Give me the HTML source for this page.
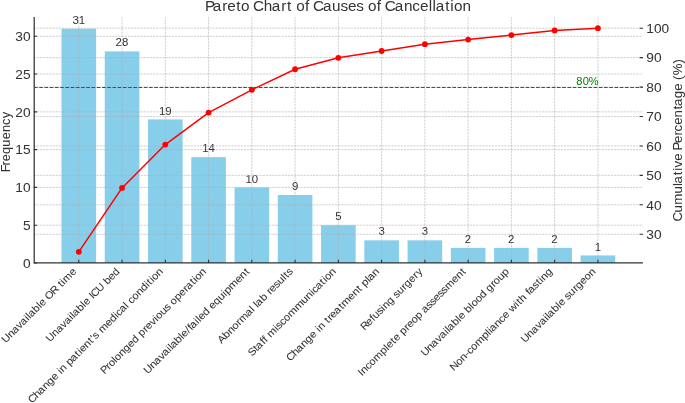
<!DOCTYPE html>
<html><head><meta charset="utf-8"><style>
html,body{margin:0;padding:0;background:#fff;}
body{width:685px;height:403px;overflow:hidden;}
svg{display:block;font-family:"Liberation Sans",sans-serif;will-change:transform;}
</style></head><body>
<svg width="685" height="403" viewBox="0 0 685 403">
<rect x="61.50" y="28.71" width="34.61" height="234.29" fill="#87ceeb"/>
<rect x="104.76" y="51.39" width="34.61" height="211.61" fill="#87ceeb"/>
<rect x="148.02" y="119.41" width="34.61" height="143.59" fill="#87ceeb"/>
<rect x="191.28" y="157.19" width="34.61" height="105.81" fill="#87ceeb"/>
<rect x="234.54" y="187.42" width="34.61" height="75.58" fill="#87ceeb"/>
<rect x="277.80" y="194.98" width="34.61" height="68.02" fill="#87ceeb"/>
<rect x="321.06" y="225.21" width="34.61" height="37.79" fill="#87ceeb"/>
<rect x="364.32" y="240.33" width="34.61" height="22.67" fill="#87ceeb"/>
<rect x="407.58" y="240.33" width="34.61" height="22.67" fill="#87ceeb"/>
<rect x="450.84" y="247.88" width="34.61" height="15.12" fill="#87ceeb"/>
<rect x="494.10" y="247.88" width="34.61" height="15.12" fill="#87ceeb"/>
<rect x="537.36" y="247.88" width="34.61" height="15.12" fill="#87ceeb"/>
<rect x="580.62" y="255.44" width="34.61" height="7.56" fill="#87ceeb"/>
<path d="M78.80 263.0V17.0M122.06 263.0V17.0M165.32 263.0V17.0M208.58 263.0V17.0M251.84 263.0V17.0M295.10 263.0V17.0M338.36 263.0V17.0M381.62 263.0V17.0M424.88 263.0V17.0M468.14 263.0V17.0M511.40 263.0V17.0M554.66 263.0V17.0M597.92 263.0V17.0M33.81 225.21H642.91M33.81 187.42H642.91M33.81 149.64H642.91M33.81 111.85H642.91M33.81 74.06H642.91M33.81 36.27H642.91" stroke="#b0b0b0" stroke-width="0.6" stroke-dasharray="2.19 0.947" fill="none"/>
<text transform="translate(78.80 23.81) scale(1.0843 1)" x="-5.85 -0.06" y="0" font-size="10.55" fill="#333333">31</text>
<text transform="translate(122.06 46.49) scale(1.0843 1)" x="-5.99 -0.00" y="0" font-size="10.55" fill="#333333">28</text>
<text transform="translate(165.32 114.51) scale(1.0843 1)" x="-5.93 -0.03" y="0" font-size="10.55" fill="#333333">19</text>
<text transform="translate(208.58 152.29) scale(1.0843 1)" x="-5.93 -0.00" y="0" font-size="10.55" fill="#333333">14</text>
<text transform="translate(251.84 182.52) scale(1.0843 1)" x="-5.93 -0.00" y="0" font-size="10.55" fill="#333333">10</text>
<text transform="translate(295.10 190.08) scale(1.0843 1)" x="-2.96" y="0" font-size="10.55" fill="#333333">9</text>
<text transform="translate(338.36 220.31) scale(1.0843 1)" x="-2.97" y="0" font-size="10.55" fill="#333333">5</text>
<text transform="translate(381.62 235.43) scale(1.0843 1)" x="-2.92" y="0" font-size="10.55" fill="#333333">3</text>
<text transform="translate(424.88 235.43) scale(1.0843 1)" x="-2.92" y="0" font-size="10.55" fill="#333333">3</text>
<text transform="translate(468.14 242.98) scale(1.0843 1)" x="-3.06" y="0" font-size="10.55" fill="#333333">2</text>
<text transform="translate(511.40 242.98) scale(1.0843 1)" x="-3.06" y="0" font-size="10.55" fill="#333333">2</text>
<text transform="translate(554.66 242.98) scale(1.0843 1)" x="-3.06" y="0" font-size="10.55" fill="#333333">2</text>
<text transform="translate(597.92 250.54) scale(1.0843 1)" x="-3.00" y="0" font-size="10.55" fill="#333333">1</text>
<path d="M33.81 234.25H642.91M33.81 204.81H642.91M33.81 175.37H642.91M33.81 145.93H642.91M33.81 116.50H642.91M33.81 87.06H642.91M33.81 57.62H642.91M33.81 28.18H642.91" stroke="#b0b0b0" stroke-width="0.6" stroke-dasharray="2.19 0.947" fill="none"/>
<path d="M34.21 17.0V262.80H642.91" stroke="#333333" stroke-width="1.25" fill="none"/>
<path d="M33.81 263.00h3.3M33.81 225.21h3.3M33.81 187.42h3.3M33.81 149.64h3.3M33.81 111.85h3.3M33.81 74.06h3.3M33.81 36.27h3.3M78.80 263.0v-3.3M122.06 263.0v-3.3M165.32 263.0v-3.3M208.58 263.0v-3.3M251.84 263.0v-3.3M295.10 263.0v-3.3M338.36 263.0v-3.3M381.62 263.0v-3.3M424.88 263.0v-3.3M468.14 263.0v-3.3M511.40 263.0v-3.3M554.66 263.0v-3.3M597.92 263.0v-3.3M642.91 234.25h-3.3M642.91 204.81h-3.3M642.91 175.37h-3.3M642.91 145.93h-3.3M642.91 116.50h-3.3M642.91 87.06h-3.3M642.91 57.62h-3.3M642.91 28.18h-3.3" stroke="#333333" stroke-width="1.1" fill="none"/>
<text transform="translate(30.61 267.70) scale(1.0843 1)" x="-7.04" y="0" font-size="12.66" fill="#333333" stroke="#333333" stroke-width="0.03">0</text>
<text transform="translate(30.61 229.91) scale(1.0843 1)" x="-7.09" y="0" font-size="12.66" fill="#333333" stroke="#333333" stroke-width="0.03">5</text>
<text transform="translate(30.61 192.12) scale(1.0843 1)" x="-14.16 -7.04" y="0" font-size="12.66" fill="#333333" stroke="#333333" stroke-width="0.03">10</text>
<text transform="translate(30.61 154.34) scale(1.0843 1)" x="-14.16 -7.09" y="0" font-size="12.66" fill="#333333" stroke="#333333" stroke-width="0.03">15</text>
<text transform="translate(30.61 116.55) scale(1.0843 1)" x="-14.23 -7.04" y="0" font-size="12.66" fill="#333333" stroke="#333333" stroke-width="0.03">20</text>
<text transform="translate(30.61 78.76) scale(1.0843 1)" x="-14.23 -7.09" y="0" font-size="12.66" fill="#333333" stroke="#333333" stroke-width="0.03">25</text>
<text transform="translate(30.61 40.97) scale(1.0843 1)" x="-14.07 -7.04" y="0" font-size="12.66" fill="#333333" stroke="#333333" stroke-width="0.03">30</text>
<text transform="translate(646.31 238.95) scale(1.0843 1)" x="0.02 7.04" y="0" font-size="12.66" fill="#333333" stroke="#333333" stroke-width="0.03">30</text>
<text transform="translate(646.31 209.51) scale(1.0843 1)" x="-0.00 7.04" y="0" font-size="12.66" fill="#333333" stroke="#333333" stroke-width="0.03">40</text>
<text transform="translate(646.31 180.07) scale(1.0843 1)" x="-0.04 7.04" y="0" font-size="12.66" fill="#333333" stroke="#333333" stroke-width="0.03">50</text>
<text transform="translate(646.31 150.63) scale(1.0843 1)" x="-0.01 7.04" y="0" font-size="12.66" fill="#333333" stroke="#333333" stroke-width="0.03">60</text>
<text transform="translate(646.31 121.20) scale(1.0843 1)" x="-0.03 7.04" y="0" font-size="12.66" fill="#333333" stroke="#333333" stroke-width="0.03">70</text>
<text transform="translate(646.31 91.76) scale(1.0843 1)" x="-0.00 7.04" y="0" font-size="12.66" fill="#333333" stroke="#333333" stroke-width="0.03">80</text>
<text transform="translate(646.31 62.32) scale(1.0843 1)" x="-0.04 7.04" y="0" font-size="12.66" fill="#333333" stroke="#333333" stroke-width="0.03">90</text>
<text transform="translate(646.31 32.88) scale(1.0843 1)" x="-0.08 7.04 14.08" y="0" font-size="12.66" fill="#333333" stroke="#333333" stroke-width="0.03">100</text>
<text transform="translate(77.10 272.10) rotate(-45) scale(1.0601 1)" x="-95.16 -87.97 -82.59 -76.37 -71.46 -65.25 -62.68 -60.66 -54.48 -48.58 -46.16 -40.43 -37.90 -30.63 -23.79 -20.54 -17.12 -14.47 -5.70" y="0" font-size="10.34" fill="#333333" stroke="#333333" stroke-width="0.05">Unavailable OR time</text>
<text transform="translate(120.36 272.10) rotate(-45) scale(1.0464 1)" x="-95.13 -87.86 -82.41 -76.11 -71.12 -64.86 -62.26 -60.18 -53.92 -47.98 -45.50 -39.71 -36.84 -34.54 -27.79 -20.58 -17.50 -11.68 -5.90" y="0" font-size="10.34" fill="#333333" stroke="#333333" stroke-width="0.05">Unavailable ICU bed</text>
<text transform="translate(163.62 272.10) rotate(-45) scale(1.0853 1)" x="-171.59 -164.66 -159.39 -153.39 -147.72 -142.02 -136.38 -133.40 -131.00 -125.28 -122.37 -117.14 -110.84 -107.49 -105.17 -99.53 -93.51 -90.02 -87.96 -83.09 -80.10 -71.50 -65.92 -60.02 -57.84 -53.13 -47.02 -44.62 -41.97 -36.90 -31.26 -25.59 -19.69 -16.99 -13.65 -11.36 -5.72" y="0" font-size="10.34" fill="#333333" stroke="#333333" stroke-width="0.05">Change in patient's medical condition</text>
<text transform="translate(206.88 272.10) rotate(-45) scale(1.0670 1)" x="-135.61 -129.37 -126.19 -120.38 -118.02 -112.28 -106.52 -100.71 -95.04 -89.18 -86.19 -80.13 -76.91 -71.10 -65.66 -63.30 -57.61 -51.93 -46.99 -44.16 -38.39 -32.68 -26.67 -23.64 -17.26 -13.86 -11.50 -5.77" y="0" font-size="10.34" fill="#333333" stroke="#333333" stroke-width="0.05">Prolonged previous operation</text>
<text transform="translate(250.14 272.10) rotate(-45) scale(1.0862 1)" x="-133.20 -126.17 -120.92 -114.84 -110.05 -103.94 -101.44 -99.51 -93.48 -87.68 -85.36 -79.64 -76.43 -73.98 -67.87 -65.37 -63.05 -57.48 -51.69 -48.91 -43.33 -37.58 -31.72 -29.29 -23.48 -14.89 -9.25 -3.23" y="0" font-size="10.34" fill="#333333" stroke="#333333" stroke-width="0.05">Unavailable/failed equipment</text>
<text transform="translate(293.40 272.10) rotate(-45) scale(1.0746 1)" x="-94.57 -87.94 -82.18 -76.52 -70.55 -67.11 -58.82 -52.68 -50.25 -47.24 -45.27 -39.17 -33.44 -30.24 -27.05 -21.53 -16.65 -10.74 -8.00 -4.89" y="0" font-size="10.34" fill="#333333" stroke="#333333" stroke-width="0.05">Abnormal lab results</text>
<text transform="translate(336.66 272.10) rotate(-45) scale(1.0866 1)" x="-110.28 -103.72 -100.95 -94.70 -91.52 -88.61 -85.63 -76.85 -74.62 -69.97 -64.90 -59.16 -50.38 -41.74 -35.98 -30.16 -27.98 -23.27 -16.97 -13.63 -11.35 -5.71" y="0" font-size="10.34" fill="#333333" stroke="#333333" stroke-width="0.05">Staff miscommunication</text>
<text transform="translate(379.92 272.10) rotate(-45) scale(1.0863 1)" x="-116.74 -109.82 -104.55 -98.55 -92.90 -87.19 -81.57 -78.59 -76.19 -70.47 -67.30 -63.78 -60.64 -55.47 -49.17 -45.83 -37.23 -31.60 -25.58 -22.35 -19.44 -13.65 -11.72 -5.72" y="0" font-size="10.34" fill="#333333" stroke="#333333" stroke-width="0.05">Change in treatment plan</text>
<text transform="translate(423.18 272.10) rotate(-45) scale(1.0580 1)" x="-78.53 -72.14 -66.13 -63.13 -57.41 -52.33 -49.82 -44.02 -38.12 -35.31 -30.34 -24.17 -20.85 -15.00 -8.94 -5.33" y="0" font-size="10.34" fill="#333333" stroke="#333333" stroke-width="0.05">Refusing surgery</text>
<text transform="translate(466.44 272.10) rotate(-45) scale(1.0692 1)" x="-138.01 -135.17 -129.59 -124.44 -118.58 -109.76 -103.90 -101.51 -95.50 -92.28 -86.58 -83.61 -77.55 -74.34 -68.73 -62.97 -57.22 -54.75 -48.84 -44.06 -39.20 -33.65 -28.87 -23.79 -15.08 -9.35 -3.26" y="0" font-size="10.34" fill="#333333" stroke="#333333" stroke-width="0.05">Incomplete preop assessment</text>
<text transform="translate(509.70 272.10) rotate(-45) scale(1.0713 1)" x="-111.90 -104.78 -99.45 -93.29 -88.43 -82.27 -79.73 -77.75 -71.63 -65.78 -63.40 -57.71 -54.75 -48.89 -46.55 -40.95 -35.30 -29.46 -26.59 -20.44 -17.28 -11.60 -5.73" y="0" font-size="10.34" fill="#333333" stroke="#333333" stroke-width="0.05">Unavailable blood group</text>
<text transform="translate(552.96 272.10) rotate(-45) scale(1.0819 1)" x="-129.65 -122.62 -116.97 -111.33 -108.18 -103.09 -97.32 -88.58 -82.76 -80.24 -78.30 -72.28 -66.76 -61.64 -55.99 -53.15 -45.59 -42.88 -39.64 -33.89 -30.75 -28.29 -22.44 -17.25 -13.89 -11.48 -5.80" y="0" font-size="10.34" fill="#333333" stroke="#333333" stroke-width="0.05">Non-compliance with fasting</text>
<text transform="translate(596.22 272.10) rotate(-45) scale(1.0647 1)" x="-94.63 -87.47 -82.11 -75.91 -71.02 -64.83 -62.28 -60.27 -54.11 -48.24 -45.83 -40.12 -37.34 -32.40 -26.26 -22.97 -17.15 -11.52 -5.77" y="0" font-size="10.34" fill="#333333" stroke="#333333" stroke-width="0.05">Unavailable surgeon</text>
<polyline points="78.80,251.82 122.06,187.92 165.32,144.56 208.58,112.62 251.84,89.80 295.10,69.26 338.36,57.85 381.62,51.00 424.88,44.16 468.14,39.59 511.40,35.03 554.66,30.46 597.92,28.18" stroke="#ff0000" stroke-width="1.5" fill="none" stroke-linejoin="round"/>
<circle cx="78.80" cy="251.82" r="2.9" fill="#ff0000"/>
<circle cx="122.06" cy="187.92" r="2.9" fill="#ff0000"/>
<circle cx="165.32" cy="144.56" r="2.9" fill="#ff0000"/>
<circle cx="208.58" cy="112.62" r="2.9" fill="#ff0000"/>
<circle cx="251.84" cy="89.80" r="2.9" fill="#ff0000"/>
<circle cx="295.10" cy="69.26" r="2.9" fill="#ff0000"/>
<circle cx="338.36" cy="57.85" r="2.9" fill="#ff0000"/>
<circle cx="381.62" cy="51.00" r="2.9" fill="#ff0000"/>
<circle cx="424.88" cy="44.16" r="2.9" fill="#ff0000"/>
<circle cx="468.14" cy="39.59" r="2.9" fill="#ff0000"/>
<circle cx="511.40" cy="35.03" r="2.9" fill="#ff0000"/>
<circle cx="554.66" cy="30.46" r="2.9" fill="#ff0000"/>
<circle cx="597.92" cy="28.18" r="2.9" fill="#ff0000"/>
<path d="M34.00 87.50H642.91" stroke="#008000" stroke-width="1.1" stroke-dasharray="3.65 1.58" fill="none"/>
<text transform="translate(598.40 85.46) scale(1.0526 1)" x="-21.03 -14.99 -9.20" y="0" font-size="10.55" fill="#008000">80%</text>
<text transform="translate(338.36 10.90) scale(1.0516 1)" x="-126.94 -119.46 -110.37 -105.76 -97.19 -92.59 -84.46 -81.11 -71.07 -63.41 -54.32 -48.92 -44.23 -40.15 -31.64 -27.41 -24.05 -14.67 -6.01 2.10 9.08 17.01 24.04 28.11 36.62 40.86 44.21 53.59 62.31 70.29 77.72 85.98 89.63 92.53 101.62 106.47 109.87 118.07" y="0" font-size="14.56" fill="#333333">Pareto Chart of Causes of Cancellation</text>
<text transform="translate(10.40 141.65) rotate(-90) scale(1.0364 1)" x="-29.61 -22.94 -18.97 -12.02 -4.85 2.23 9.25 16.10 22.65" y="0" font-size="12.30" fill="#333333" stroke="#333333" stroke-width="0.03">Frequency</text>
<text transform="translate(682.20 140.05) rotate(-90) scale(1.0619 1)" x="-76.79 -68.32 -61.05 -50.45 -43.28 -40.85 -33.13 -29.02 -25.93 -19.55 -12.65 -9.79 -2.87 4.39 8.11 14.40 21.34 28.71 32.16 39.47 46.49 53.39 56.66 60.96 72.19" y="0" font-size="12.45" fill="#333333" stroke="#333333" stroke-width="0.03">Cumulative Percentage (%)</text>
</svg>
</body></html>
